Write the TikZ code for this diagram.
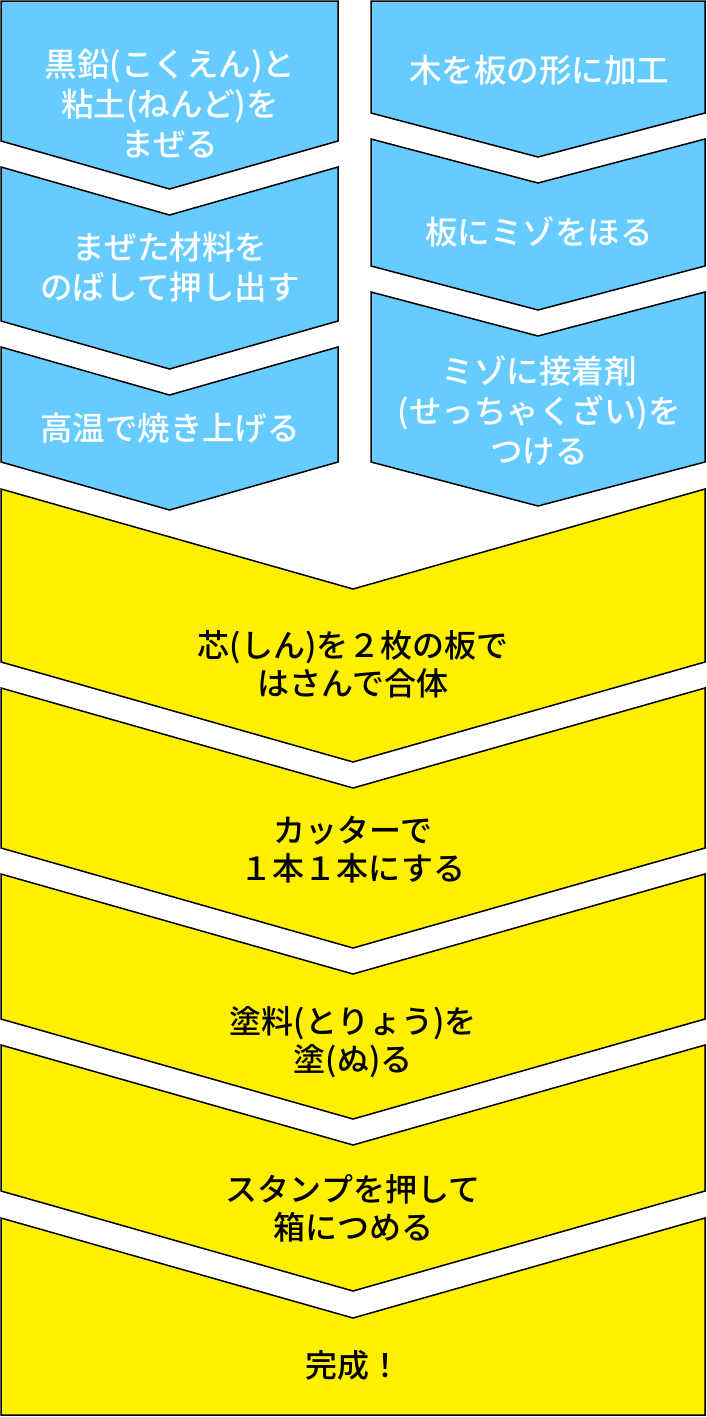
\documentclass[tikz,border=0pt]{standalone}
\usepackage{fontspec}
\setmainfont{Noto Sans CJK JP}[BoldFont={Noto Sans CJK JP Medium}]
\definecolor{skyblue}{HTML}{66CCFF}
\definecolor{lemon}{HTML}{FFF000}
\tikzset{
  bluebox/.style={fill=skyblue,draw=black,line width=1.5pt,line join=miter},
  yellowbox/.style={fill=lemon,draw=black,line width=1.5pt,line join=miter},
  bluetext/.style={text=white,align=center,inner sep=0pt,font=\bfseries\fontsize{32.5}{40}\selectfont},
  yellowtext/.style={text=black,align=center,inner sep=0pt,font=\bfseries\fontsize{32}{38}\selectfont}
}
\begin{document}
\begin{tikzpicture}[x=1pt,y=-1pt]
  \useasboundingbox (0,0) rectangle (707,1417);
  % left column (pencil lead)
  \def\la{1} \def\lb{338} \def\lm{169.5} \def\ld{48}
  \foreach \yt/\yb/\dt in {1/141/0, 167/321/\ld, 347/462/\ld}
    \draw[bluebox] (\la,\yt) -- (\lm,{\yt+\dt}) -- (\lb,\yt) -- (\lb,\yb)
      -- (\lm,{\yb+\ld}) -- (\la,\yb) -- cycle;
  % right column (wooden board)
  \def\ra{371} \def\rb{705} \def\rm{538} \def\rd{44}
  \foreach \yt/\yb/\dt in {1/113/0, 139/266/\rd, 292/462/\rd}
    \draw[bluebox] (\ra,\yt) -- (\rm,{\yt+\dt}) -- (\rb,\yt) -- (\rb,\yb)
      -- (\rm,{\yb+\rd}) -- (\ra,\yb) -- cycle;
  % common steps
  \def\ya{1} \def\yb{705} \def\ym{353}
  \foreach \yt/\ybot/\db in {489/662/100, 688/848/100, 874/1019/100, 1045/1191/100, 1218/1415/0}
    \draw[yellowbox] (\ya,\yt) -- (\ym,{\yt+100}) -- (\yb,\yt) -- (\yb,\ybot)
      -- (\ym,{\ybot+\db}) -- (\ya,\ybot) -- cycle;
  % labels
  \node[bluetext] (mix) at (170,104) {黒鉛(こくえん)と\\粘土(ねんど)を\\まぜる};
  \node[bluetext] (extrude) at (170,267) {まぜた材料を\\のばして押し出す};
  \node[bluetext] (bake) at (170,428) {高温で焼き上げる};
  \node[bluetext] (board) at (539,70) {木を板の形に加工};
  \node[bluetext] (groove) at (539,232) {板にミゾをほる};
  \node[bluetext] (glue) at (539,411) {ミゾに接着剤\\(せっちゃくざい)を\\つける};
  \node[yellowtext] (join) at (353,664) {芯(しん)を２枚の板で\\はさんで合体};
  \node[yellowtext] (cut) at (353,850) {カッターで\\１本１本にする};
  \node[yellowtext] (paint) at (353,1042) {塗料(とりょう)を\\塗(ぬ)る};
  \node[yellowtext] (pack) at (353,1208) {スタンプを押して\\箱につめる};
  \node[yellowtext] (done) at (353,1365) {完成！};
\end{tikzpicture}
\end{document}
